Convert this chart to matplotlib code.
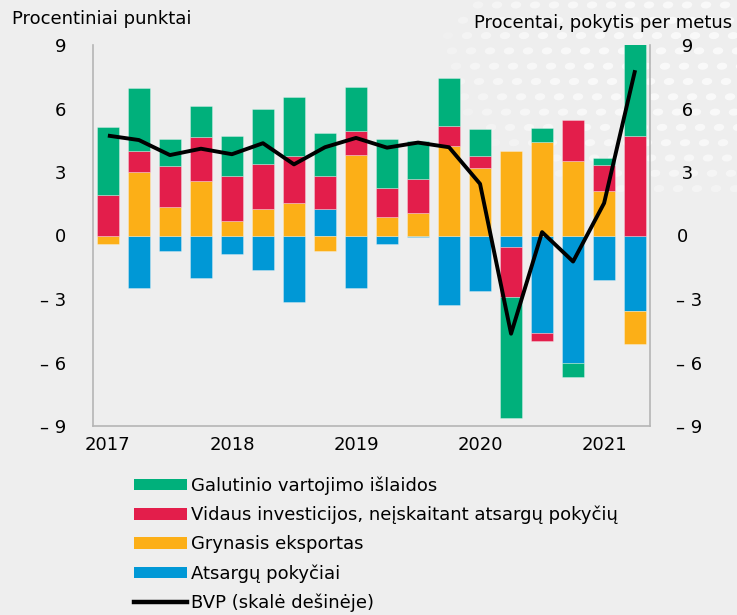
import numpy as np
import matplotlib
matplotlib.use("Agg")
import matplotlib.pyplot as plt
from matplotlib.patches import Patch, Ellipse
from matplotlib.lines import Line2D

# ---- data ----
quarters = ["2017Q1", "2017Q2", "2017Q3", "2017Q4",
            "2018Q1", "2018Q2", "2018Q3", "2018Q4",
            "2019Q1", "2019Q2", "2019Q3", "2019Q4",
            "2020Q1", "2020Q2", "2020Q3", "2020Q4",
            "2021Q1", "2021Q2"]
year_labels = ["2017", "2018", "2019", "2020", "2021"]
year_label_quarters = ["2017Q1", "2018Q1", "2019Q1", "2020Q1", "2021Q1"]

galutinis = [3.22, 2.97, 1.26, 1.45, 1.86, 2.58, 2.75, 2.00, 2.08, 2.30,
             1.79, 2.25, 1.27, -5.74, 0.68, -0.66, 0.33, 8.20]
investicijos = [1.92, 1.02, 1.95, 2.08, 2.14, 2.12, 2.23, 1.57, 1.15, 1.40,
                1.60, 0.96, 0.58, -2.34, -0.39, 1.95, 1.21, 4.72]
eksportas = [-0.42, 2.99, 1.35, 2.58, 0.69, 1.26, 1.54, -0.71, 3.80, 0.86,
             1.07, 4.23, 3.19, 3.99, 4.42, 3.51, 2.12, -1.56]
atsargos = [0.00, -2.48, -0.75, -2.01, -0.86, -1.65, -3.16, 1.26, -2.47, -0.39,
            -0.09, -3.30, -2.61, -0.55, -4.61, -6.02, -2.12, -3.55]
bvp = [4.72, 4.51, 3.80, 4.10, 3.84, 4.36, 3.36, 4.17, 4.61, 4.15,
       4.39, 4.17, 2.44, -4.64, 0.16, -1.23, 1.53, 7.81]

series_labels = ["Galutinio vartojimo išlaidos",
                 "Vidaus investicijos, neįskaitant atsargų pokyčių",
                 "Grynasis eksportas",
                 "Atsargų pokyčiai"]
line_label = "BVP (skalė dešinėje)"
left_title = "Procentiniai punktai"
right_title = "Procentai, pokytis per metus"

colors = {"g": "#00B07B", "r": "#E31E4B", "o": "#FCAF17", "b": "#0098D6"}
bg = "#EEEEEE"
FS = 13

plt.rcParams["font.family"] = ["DejaVu Sans"]

W, H = 737, 615
fig = plt.figure(figsize=(W / 100, H / 100), dpi=100, facecolor=bg)

# decorative dot pattern (background)
cx, cy, rx, ry = 680, 55, 235, 145
for j, yy in enumerate(np.arange(5, 210, 15.3)):
    off = (j * 4) % 19
    for xx in np.arange(440 + off, 745, 19):
        d = ((xx - cx) / rx) ** 2 + ((yy - cy) / ry) ** 2
        if d < 1:
            a = 0.7 * (1 - d) ** 0.35
            fig.add_artist(Ellipse((xx / W, 1 - yy / H), 10.5 / W, 7 / H, angle=12,
                                   transform=fig.transFigure, facecolor="white",
                                   edgecolor="none", alpha=a, zorder=-5))

ax = fig.add_axes([93 / W, 1 - 426 / H, (650 - 93) / W, (426 - 45) / H])
ax.set_facecolor("none")
ax.patch.set_alpha(0)

x = np.arange(len(quarters))
width = 0.71
pos_bottom = np.zeros(len(x))
neg_bottom = np.zeros(len(x))
stack = [(atsargos, colors["b"]), (eksportas, colors["o"]),
         (investicijos, colors["r"]), (galutinis, colors["g"])]
for vals, col in stack:
    v = np.array(vals, dtype=float)
    bottoms = np.where(v >= 0, pos_bottom, neg_bottom)
    ax.bar(x, v, width, bottom=bottoms, color=col, edgecolor=(1, 1, 1, 0.35),
           linewidth=0.6, zorder=2)
    pos_bottom = pos_bottom + np.where(v >= 0, v, 0)
    neg_bottom = neg_bottom + np.where(v < 0, v, 0)

ax.set_xlim(-0.48, len(x) - 0.52)
ax.set_ylim(-9, 9)

ax2 = ax.twinx()
ax2.set_ylim(-9, 9)
ax2.plot(x, bvp, color="black", lw=2.8, zorder=5, solid_capstyle="butt")

ticks = [9, 6, 3, 0, -3, -6, -9]
def fmt(t, right=False):
    if t < 0:
        return "– " + str(abs(t))
    if right and t > 0:
        return " " + str(t)
    return str(t)

ax.set_yticks(ticks)
ax.set_yticklabels([fmt(t) for t in ticks], fontsize=FS)
ax2.set_yticks(ticks)
ax2.set_yticklabels([fmt(t, True) for t in ticks], fontsize=FS)
ax.set_xticks([quarters.index(q) for q in year_label_quarters])
ax.set_xticklabels(year_labels, fontsize=FS)

ax.tick_params(axis="y", length=0, pad=19)
ax2.tick_params(axis="y", length=0, pad=19)
ax.tick_params(axis="x", length=0, pad=7)

for a in (ax, ax2):
    for s in a.spines.values():
        s.set_visible(False)
ax.spines["left"].set_visible(True)
ax.spines["bottom"].set_visible(True)
ax2.spines["right"].set_visible(True)
for s in (ax.spines["left"], ax.spines["bottom"], ax2.spines["right"]):
    s.set_color("#B5B5B5")
    s.set_linewidth(1.2)

fig.text(12 / W, 1 - 19 / H, left_title, fontsize=FS, ha="left", va="center")
fig.text(732 / W, 1 - 23 / H, right_title, fontsize=FS, ha="right", va="center")

handles = [Patch(facecolor=colors["g"]), Patch(facecolor=colors["r"]),
           Patch(facecolor=colors["o"]), Patch(facecolor=colors["b"]),
           Line2D([0], [0], color="black", lw=3.2)]
labels = series_labels + [line_label]
leg = fig.legend(handles, labels, loc="upper left",
                 bbox_to_anchor=(127 / W, 1 - 469 / H), frameon=False,
                 fontsize=FS, handlelength=2.9, handleheight=0.6,
                 handletextpad=0.25, labelspacing=0.61, borderaxespad=0)

fig.savefig("out.png", dpi=100, facecolor=bg)
